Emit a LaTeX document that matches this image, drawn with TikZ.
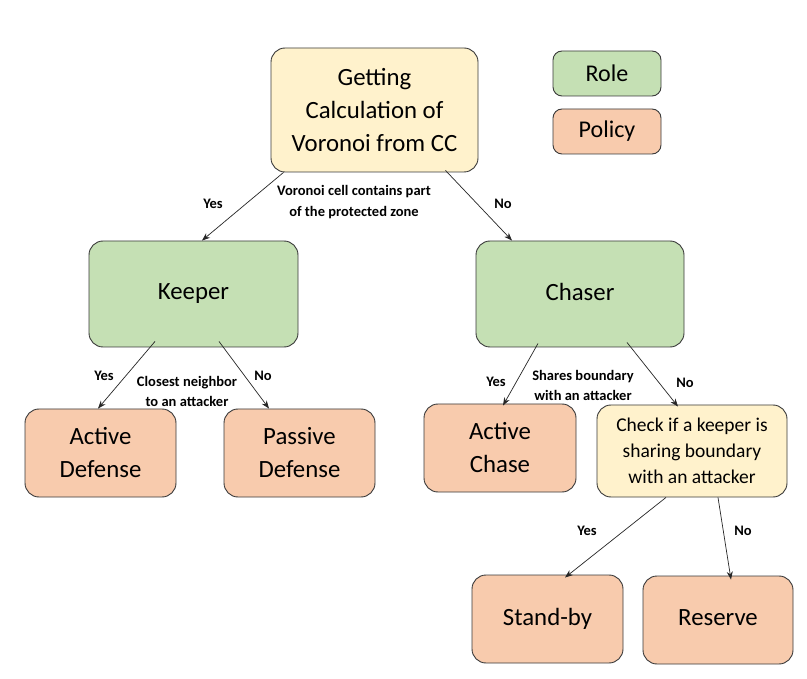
\documentclass[tikz,border=0pt]{standalone}
\usepackage{fontspec}
\setmainfont{Carlito}
\usetikzlibrary{arrows.meta}
\definecolor{cyellow}{HTML}{FFF2CC}
\definecolor{cgreen}{HTML}{C5E0B4}
\definecolor{corange}{HTML}{F8CBAD}
\definecolor{cborder}{HTML}{3A3A3A}
\tikzset{
  x=1pt,y=-1pt,
  box/.style={draw=cborder,line width=0.9pt,rounded corners=14pt,align=center,inner sep=2pt},
  bigtext/.style={font=\fontsize{24.8}{33}\selectfont},
  midtext/.style={font=\fontsize{19.5}{26}\selectfont},
  lbl/.style={font=\fontsize{14.5}{20}\selectfont\bfseries,align=center,inner sep=0pt},
  arr/.style={draw=black!85,line width=0.7pt,-{Stealth[length=8pt,width=6pt]}},
}
\begin{document}
\begin{tikzpicture}
\useasboundingbox (0,0) rectangle (807,679);
\fill[white] (0,0) rectangle (807,679);
% nodes
\node[box,bigtext,fill=cyellow,minimum width=207pt,minimum height=124pt] (top) at (374.5,110) {Getting\\Calculation of\\Voronoi from CC};
\node[box,font=\fontsize{24}{26}\selectfont,fill=cgreen,minimum width=108pt,minimum height=45pt,rounded corners=9pt] (role) at (607,73.5) {Role};
\node[box,font=\fontsize{24}{26}\selectfont,fill=corange,minimum width=108pt,minimum height=45pt,rounded corners=9pt] (policy) at (607,131.5) {Policy};
\node[box,bigtext,fill=cgreen,minimum width=209pt,minimum height=106pt] (keeper) at (193.5,294) {Keeper\vphantom{p}};
\node[box,bigtext,fill=cgreen,minimum width=208pt,minimum height=106pt] (chaser) at (580,294) {Chaser\vphantom{p}};
\node[box,bigtext,fill=corange,minimum width=151pt,minimum height=88pt] (adef) at (100.5,453) {Active\\Defense};
\node[box,bigtext,fill=corange,minimum width=151pt,minimum height=88pt] (pdef) at (299.5,453) {Passive\\Defense};
\node[box,bigtext,fill=corange,minimum width=152pt,minimum height=88pt] (achase) at (500,448) {Active\\Chase};
\node[box,midtext,fill=cyellow,minimum width=190pt,minimum height=92pt] (check) at (692,451) {\vphantom{g}Check if a keeper is\\sharing boundary\\with an attacker};
\node[box,bigtext,fill=corange,minimum width=151pt,minimum height=88pt] (standby) at (547.5,619) {Stand-by};
\node[box,bigtext,fill=corange,minimum width=150pt,minimum height=88pt] (reserve) at (718,620) {Reserve\vphantom{y}};
% connectors
\draw[arr] ([xshift=-91pt]top.south) -- ([xshift=8.5pt]keeper.north);
\draw[arr] ([xshift=71pt,yshift=2pt]top.south) -- ([xshift=-68pt]chaser.north);
\draw[arr] ([xshift=-38.5pt,yshift=6pt]keeper.south) -- ([xshift=-2.5pt]adef.north);
\draw[arr] ([xshift=25.5pt,yshift=6pt]keeper.south) -- ([xshift=-30.5pt]pdef.north);
\draw[arr] ([xshift=-42pt,yshift=4pt]chaser.south) -- ([xshift=3pt,yshift=-2pt]achase.north);
\draw[arr] ([xshift=47pt,yshift=5pt]chaser.south) -- ([xshift=-14pt,yshift=-2pt]check.north);
\draw[arr] ([xshift=-26pt]check.south) -- ([xshift=17.5pt,yshift=-3pt]standby.north);
\draw[arr] ([xshift=26pt]check.south) -- ([xshift=13pt,yshift=-4pt]reserve.north);
% labels
\node[lbl,font=\fontsize{14.5}{21}\selectfont\bfseries] (l1) at (354,202) {Voronoi cell contains part\\of the protected zone};
\node[lbl] (y1) at (213,204) {Yes};
\node[lbl] (n1) at (503,204) {No};
\node[lbl] (l2) at (187,391) {Closest neighbor\\to an attacker};
\node[lbl] (y2) at (104,376) {Yes};
\node[lbl] (n2) at (263,376) {No};
\node[lbl] (l3) at (583,385) {Shares boundary\\with an attacker};
\node[lbl] (y3) at (496,382) {Yes};
\node[lbl] (n3) at (685,383) {No};
\node[lbl] (y4) at (587,531) {Yes};
\node[lbl] (n4) at (743,531) {No};
\end{tikzpicture}
\end{document}
